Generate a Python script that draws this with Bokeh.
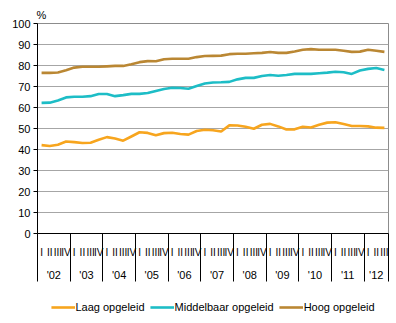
from bokeh.plotting import figure
from bokeh.layouts import column
from bokeh.models import Range1d, FixedTicker, LinearAxis, Legend, LegendItem, Title
from bokeh.embed import file_html
from bokeh.resources import INLINE

years = ["'02", "'03", "'04", "'05", "'06", "'07", "'08", "'09", "'10", "'11", "'12"]
quarter_labels = ["I", "II", "III", "IV"]
n_quarters = 43  # 2002 Q1 .. 2012 Q3

laag = [42.1, 41.7, 42.3, 43.8, 43.5, 43.1, 43.2, 44.6, 45.9, 45.2, 44.2, 46.2,
        48.2, 47.9, 46.8, 47.8, 48.0, 47.4, 47.1, 48.8, 49.4, 49.2, 48.6, 51.5,
        51.4, 50.8, 49.9, 51.8, 52.2, 51.0, 49.5, 49.6, 50.8, 50.5, 51.8, 52.8,
        53.0, 52.1, 51.2, 51.2, 51.0, 50.4, 50.3]
middel = [62.2, 62.3, 63.3, 64.8, 65.1, 65.1, 65.4, 66.4, 66.4, 65.4, 65.9, 66.5,
          66.5, 66.9, 67.9, 68.8, 69.4, 69.3, 68.9, 70.2, 71.4, 71.9, 72.0, 72.2,
          73.4, 74.1, 74.1, 75.0, 75.5, 75.1, 75.5, 76.0, 76.0, 76.0, 76.3, 76.6,
          77.0, 76.8, 76.0, 77.6, 78.4, 78.8, 77.9]
hoog = [76.5, 76.5, 76.7, 77.7, 79.0, 79.4, 79.4, 79.4, 79.6, 79.8, 79.8, 80.6,
        81.6, 82.1, 82.0, 83.0, 83.2, 83.2, 83.2, 84.0, 84.5, 84.6, 84.7, 85.4,
        85.6, 85.6, 85.8, 86.0, 86.4, 86.0, 86.0, 86.7, 87.5, 87.8, 87.5, 87.5,
        87.5, 87.0, 86.5, 86.6, 87.5, 87.0, 86.5]
series_names = ["Laag opgeleid", "Middelbaar opgeleid", "Hoog opgeleid"]
colors = ["#F7A51E", "#1DBDC6", "#BA8733"]

FONT = "Liberation Sans"
LW = 2.6
xs = [k + 0.5 for k in range(n_quarters)]

p = figure(width=396, height=290, output_backend="svg", toolbar_location=None,
           x_range=Range1d(0, n_quarters), y_range=Range1d(0, 100),
           x_axis_location=None, min_border_left=37, min_border_right=8,
           min_border_top=23, min_border_bottom=57)
p.title = Title(text="%", align="left", text_font=FONT, text_font_size="11px",
                text_font_style="normal", text_color="#000000", standoff=5, offset=-1)
p.background_fill_color = "white"
p.border_fill_color = "white"
p.outline_line_color = "#8C8C8C"

# y axis
yt = FixedTicker(ticks=list(range(0, 101, 10)), minor_ticks=[])
p.yaxis.ticker = yt
p.yaxis.axis_line_color = "black"
p.yaxis.major_tick_line_color = "black"
p.yaxis.major_tick_out = 4
p.yaxis.major_tick_in = 0
p.yaxis.minor_tick_line_color = None
p.yaxis.major_label_text_font = FONT
p.yaxis.major_label_text_font_size = "11px"
p.yaxis.major_label_text_color = "black"
p.yaxis.major_label_standoff = 3
p.ygrid.ticker = yt
p.ygrid.grid_line_color = "#A6A6A6"
p.xgrid.grid_line_color = None

# quarter axis with year separators
year_bounds = list(range(0, 41, 4)) + [n_quarters]
qax = LinearAxis(ticker=FixedTicker(ticks=xs, minor_ticks=year_bounds))
qax.major_label_overrides = {x: quarter_labels[k % 4] for k, x in enumerate(xs)}
qax.major_tick_out = 0
qax.major_tick_in = 0
qax.minor_tick_in = 0
qax.minor_tick_out = 48
qax.minor_tick_line_color = "black"
qax.axis_line_color = "black"
qax.major_label_text_font = FONT
qax.major_label_text_font_size = "10px"
qax.major_label_text_color = "black"
qax.major_label_standoff = -35
p.add_layout(qax, "below")

# year axis
year_centers = [4 * i + 2 for i in range(10)] + [41.5]
yax = LinearAxis(ticker=FixedTicker(ticks=year_centers, minor_ticks=[]))
yax.major_label_overrides = {c: years[i] for i, c in enumerate(year_centers)}
yax.major_tick_out = 0
yax.major_tick_in = 0
yax.minor_tick_out = 0
yax.axis_line_color = None
yax.major_label_text_font = FONT
yax.major_label_text_font_size = "11px"
yax.major_label_text_color = "black"
yax.major_label_standoff = 8
p.add_layout(yax, "below")

for vals, c in zip([laag, middel, hoog], colors):
    p.line(xs, vals, line_color=c, line_width=LW)

# legend strip (proxy renderers lie outside the visible range)
lf = figure(width=396, height=33, output_backend="svg", toolbar_location=None,
            x_range=Range1d(0, 1), y_range=Range1d(0, 1),
            x_axis_location=None, y_axis_location=None,
            min_border_left=0, min_border_right=0, min_border_top=0, min_border_bottom=0)
lf.grid.visible = False
lf.outline_line_color = None
lf.background_fill_color = "white"
lf.border_fill_color = "white"
dummies = [lf.line([-5, -4], [-5, -4], line_color=c, line_width=LW) for c in colors]
legend = Legend(items=[LegendItem(label=n, renderers=[r]) for n, r in zip(series_names, dummies)],
                orientation="horizontal", location="center",
                label_text_font=FONT, label_text_font_size="11px", label_text_color="black",
                glyph_width=24, glyph_height=16, label_height=16, label_standoff=1,
                spacing=5, padding=0, margin=0, border_line_color=None,
                background_fill_alpha=0)
lf.add_layout(legend, "center")

layout = column(p, lf, spacing=0)
open("out.html", "w").write(file_html(layout, INLINE))
